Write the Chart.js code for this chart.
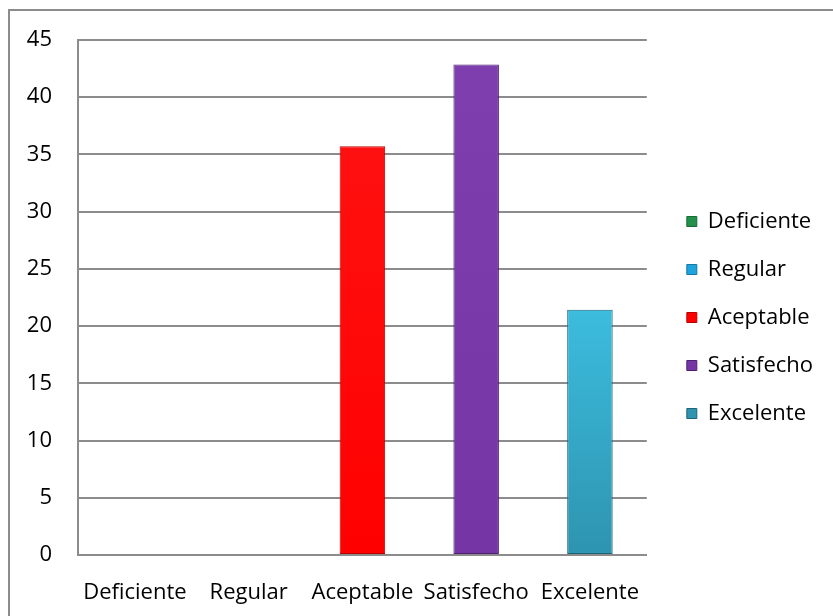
<!DOCTYPE html>
<html>
<head>
<meta charset="utf-8">
<script src="https://cdn.jsdelivr.net/npm/chart.js@4"></script>
<style>
  html, body { margin: 0; padding: 0; background: #fff; }
  #wrap { width: 833px; height: 616px; position: relative; }
</style>
</head>
<body>
<div id="wrap"><canvas id="myChart" width="833" height="616"></canvas></div>
<script>
// data
const categories = ['Deficiente', 'Regular', 'Aceptable', 'Satisfecho', 'Excelente'];
const values = [0, 0, 35.71, 42.86, 21.43];
const yTicks = [0, 5, 10, 15, 20, 25, 30, 35, 40, 45];

// colours per category: [top, bottom, edge]
const barColors = [
    ['#36b060', '#24914a', '#1a6a36'],
    ['#3cc0ee', '#1ea4dc', '#16789e'],
    ['#ff1010', '#ff0000', '#b80000'],
    ['#7f3eae', '#7535a5', '#4e2070'],
    ['#3cbcde', '#2e94b0', '#1e6478']
];

function barFill(context) {
    const chart = context.chart;
    const area = chart.chartArea;
    const i = context.dataIndex;
    const c = barColors[i];
    if (!area) return c[1];
    const yScale = chart.scales.y;
    const top = yScale.getPixelForValue(values[i]);
    const bottom = yScale.getPixelForValue(0);
    if (bottom - top < 1) return c[1];
    const g = chart.ctx.createLinearGradient(0, top, 0, bottom);
    g.addColorStop(0, c[0]);
    g.addColorStop(1, c[1]);
    return g;
}

// outer frame
const framePlugin = {
    id: 'frame',
    beforeDraw(chart) {
        const ctx = chart.ctx;
        ctx.save();
        ctx.strokeStyle = '#8c8c8c';
        ctx.lineWidth = 2;
        ctx.strokeRect(9, 10, 840, 620);
        ctx.restore();
    }
};

const labelFont = { family: 'Open Sans', size: 22 };

const ctx = document.getElementById('myChart').getContext('2d');
new Chart(ctx, {
    type: 'bar',
    data: {
        labels: categories,
        datasets: [{
            data: values,
            backgroundColor: barFill,
            borderColor: barColors.map(c => c[2]),
            borderWidth: 1,
            borderSkipped: false,
            barPercentage: 0.4,
            categoryPercentage: 1
        }]
    },
    options: {
        responsive: false,
        animation: false,
        layout: { padding: { top: 40, bottom: 6, left: 8, right: 10 } },
        plugins: {
            tooltip: { enabled: false },
            legend: {
                position: 'right',
                fullSize: false,
                maxWidth: 220,
                // empty title only used to push the entries down a little
                title: { display: true, text: ' ', color: '#fff', font: { size: 10 }, padding: { top: 14, bottom: 14 } },
                labels: {
                    color: '#000',
                    font: labelFont,
                    boxWidth: 10,
                    boxHeight: 10,
                    padding: 26,
                    generateLabels(chart) {
                        return categories.map((name, i) => ({
                            text: name,
                            fontColor: '#000',
                            fillStyle: barColors[i][1],
                            strokeStyle: barColors[i][2],
                            lineWidth: 1,
                            hidden: false,
                            index: i
                        }));
                    }
                },
                onClick() {}
            }
        },
        scales: {
            x: {
                grid: { display: false },
                border: { display: true, color: '#8c8c8c', width: 2 },
                ticks: { color: '#000', font: labelFont, padding: 17, maxRotation: 0, autoSkip: false },
                afterFit(scale) { scale.height = 55; }
            },
            y: {
                min: 0,
                max: 45,
                afterBuildTicks(scale) { scale.ticks = yTicks.map(v => ({ value: v })); },
                grid: { color: '#8c8c8c', lineWidth: 2, drawTicks: false },
                border: { display: true, color: '#8c8c8c', width: 2 },
                ticks: { color: '#000', font: labelFont, padding: 26 },
                afterFit(scale) { scale.width = 70; }
            },
            gap: {
                position: 'right',
                display: true,
                grid: { display: false, drawTicks: false },
                border: { display: false },
                ticks: { display: false },
                afterFit(scale) { scale.width = 14; }
            }
        }
    },
    plugins: [framePlugin]
});
</script>
</body>
</html>
